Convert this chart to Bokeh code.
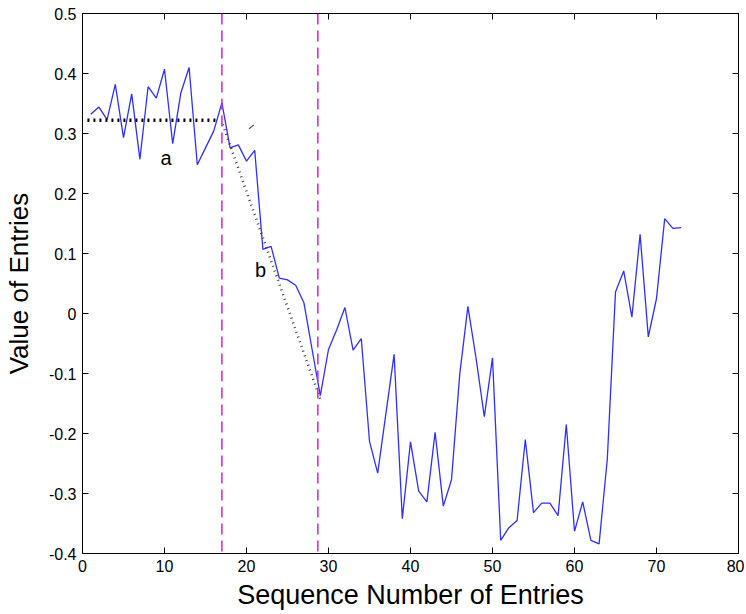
from bokeh.plotting import figure
from bokeh.models import Span, Label, LinearAxis, FixedTicker, CustomJSTickFormatter, Range1d
from bokeh.embed import file_html
from bokeh.resources import INLINE

# ---- data ----
seq = list(range(1, 74))
values = [0.332, 0.344, 0.323, 0.382, 0.293, 0.366, 0.257, 0.378, 0.359, 0.407,
          0.283, 0.368, 0.410, 0.248, 0.276, 0.304, 0.351, 0.276, 0.281, 0.254,
          0.272, 0.107, 0.112, 0.059, 0.056, 0.047, 0.018, -0.060, -0.137, -0.060,
          -0.027, 0.010, -0.061, -0.042, -0.213, -0.266, -0.167, -0.068, -0.342, -0.214,
          -0.296, -0.314, -0.198, -0.321, -0.277, -0.102, 0.012, -0.075, -0.172, -0.074,
          -0.378, -0.357, -0.345, -0.210, -0.332, -0.316, -0.316, -0.337, -0.185, -0.363,
          -0.314, -0.378, -0.384, -0.243, 0.036, 0.071, -0.006, 0.132, -0.039, 0.025,
          0.158, 0.142, 0.143]

x_ticks = [0, 10, 20, 30, 40, 50, 60, 70, 80]
x_tick_labels = ["0", "10", "20", "30", "40", "50", "60", "70", "80"]
y_ticks = [-0.4, -0.3, -0.2, -0.1, 0.0, 0.1, 0.2, 0.3, 0.4, 0.5]
y_tick_labels = ["-0.4", "-0.3", "-0.2", "-0.1", "0", "0.1", "0.2", "0.3", "0.4", "0.5"]

boundaries = [17, 28.7]
a_x = [0.6, 16.7]
a_y = [0.322, 0.322]
b_x = [17.1, 29.0]
b_y = [0.315, -0.143]
stub_x = [20.3, 20.9]
stub_y = [0.308, 0.314]
labels_text = ["a", "b"]
labels_x = [10.2, 21.7]
labels_y = [0.26, 0.073]

FONT = "Liberation Sans"

p = figure(frame_width=656, frame_height=540,
           output_backend="svg", toolbar_location=None,
           x_range=Range1d(0, 80), y_range=Range1d(-0.4, 0.5),
           min_border_left=74, min_border_right=6, min_border_top=13, min_border_bottom=50,
           x_axis_label="Sequence Number of Entries", y_axis_label="Value of Entries")
p.grid.visible = False
p.outline_line_color = "black"
p.outline_line_width = 1
p.background_fill_color = "white"
p.border_fill_color = "white"

JS = """
let best = 0, bd = 1e9;
for (let i = 0; i < tv.length; i++) { const d = Math.abs(tv[i] - tick); if (d < bd) { bd = d; best = i; } }
return tl[best];
"""
fmt_x = CustomJSTickFormatter(args=dict(tv=x_ticks, tl=x_tick_labels), code=JS)
fmt_y = CustomJSTickFormatter(args=dict(tv=y_ticks, tl=y_tick_labels), code=JS)

p.xaxis.ticker = FixedTicker(ticks=x_ticks)
p.yaxis.ticker = FixedTicker(ticks=y_ticks)
p.xaxis.formatter = fmt_x
p.yaxis.formatter = fmt_y

for ax in (p.xaxis[0], p.yaxis[0]):
    ax.major_tick_in = 6
    ax.major_tick_out = 0
    ax.minor_tick_line_color = None
    ax.axis_line_color = "black"
    ax.major_tick_line_color = "black"
    ax.major_label_text_font = FONT
    ax.major_label_text_font_size = "16px"
    ax.major_label_text_color = "black"
    ax.axis_label_text_font = FONT
    ax.axis_label_text_font_style = "normal"
    ax.axis_label_text_color = "black"

p.xaxis.axis_label_text_font_size = "27px"
p.yaxis.axis_label_text_font_size = "26px"
p.xaxis.major_label_standoff = 6
p.xaxis.axis_label_standoff = 5
p.yaxis.major_label_standoff = 6
p.yaxis.axis_label_standoff = 12

# mirror axes (top and right) with inward ticks, labels not drawn
top = LinearAxis(ticker=FixedTicker(ticks=x_ticks), major_label_text_font_size="1px",
                 major_label_text_color=None,
                 major_label_standoff=0, major_tick_in=6, major_tick_out=0,
                 minor_tick_line_color=None, axis_line_color="black")
right = LinearAxis(ticker=FixedTicker(ticks=y_ticks), major_label_text_font_size="1px",
                   major_label_text_color=None,
                   major_label_standoff=0, major_tick_in=6, major_tick_out=0,
                   minor_tick_line_color=None, axis_line_color="black")
p.add_layout(top, "above")
p.add_layout(right, "right")

# vertical dashed boundaries
for bx in boundaries:
    p.add_layout(Span(location=bx, dimension="height", line_color="#d81fd8",
                      line_width=1.5, line_dash="11 6"))

# data line
p.line(seq, values, line_color="#2e2eff", line_width=1.3)

# annotation lines
p.line(a_x, a_y, line_color="black", line_width=3.5, line_dash="2 4")
p.line(b_x, b_y, line_color="#444444", line_width=2.6, line_dash="1 4")
p.line(stub_x, stub_y, line_color="#555555", line_width=1.2)

for t, lx, ly in zip(labels_text, labels_x, labels_y):
    p.add_layout(Label(x=lx, y=ly, text=t, text_align="center", text_baseline="middle",
                       text_font=FONT, text_font_size="20px", text_color="black"))

open("out.html", "w").write(file_html(p, INLINE))
